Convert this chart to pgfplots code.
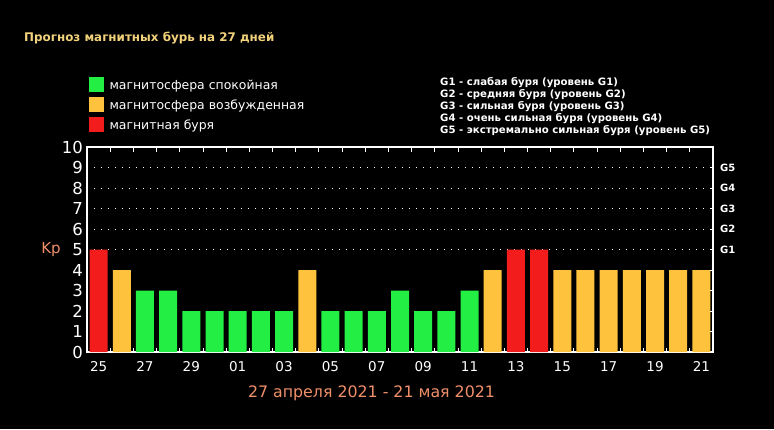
\documentclass[border=0pt]{standalone}
\usepackage{fontspec}
\setmainfont{DejaVu Sans}
\usepackage{pgfplots}
\pgfplotsset{compat=1.18}
\definecolor{kgreen}{HTML}{22EE44}
\definecolor{korange}{HTML}{FFC23C}
\definecolor{kred}{HTML}{F21C1C}
\definecolor{titlecol}{HTML}{F2D27A}
\definecolor{salmon}{HTML}{F0906A}
\begin{document}
\begin{tikzpicture}[x=1pt,y=1pt]
\fill[black] (0,0) rectangle (774,429);
\useasboundingbox (0,0) rectangle (774,429);
\node[anchor=base west, inner sep=0, text=titlecol, font=\fontsize{11.9}{13}\selectfont\bfseries] at (24,387) {Прогноз магнитных бурь на 27 дней};
\fill[kgreen] (89.3,337.3) rectangle (104,351.7);
\fill[korange] (89.3,317.3) rectangle (104,331.7);
\fill[kred] (89.3,297.3) rectangle (104,312.3);
\begin{scope}[every node/.style={anchor=base west, inner sep=0, text=white, font=\fontsize{12.45}{15}\selectfont}]
\node at (109.3,339) {магнитосфера спокойная};
\node at (109.3,319) {магнитосфера возбужденная};
\node at (109.3,299.5) {магнитная буря};
\end{scope}
\begin{scope}[every node/.style={anchor=base west, inner sep=0, text=white, font=\fontsize{10.15}{12}\selectfont\bfseries}]
\node at (440,343) {G1 - слабая буря (уровень G1)};
\node at (440,331.2) {G2 - средняя буря (уровень G2)};
\node at (440,319.4) {G3 - сильная буря (уровень G3)};
\node at (440,307.6) {G4 - очень сильная буря (уровень G4)};
\node at (440,295.8) {G5 - экстремально сильная буря (уровень G5)};
\end{scope}
\node[text=salmon, font=\fontsize{15}{17}\selectfont, inner sep=0] at (51,179) {Kp};
\node[anchor=base, text=salmon, font=\fontsize{15.8}{18}\selectfont, inner sep=0] at (371.5,32) {27 апреля 2021 - 21 мая 2021};
\begin{axis}[
  at={(87pt,77pt)}, anchor=south west,
  width=626pt, height=205pt, scale only axis,
  xmin=-0.5, xmax=26.5, ymin=0, ymax=10,
  axis line style={white, line width=1.1pt},
  tick align=inside,
  xtick={0,2,...,26},
  xticklabels={25,27,29,01,03,05,07,09,11,13,15,17,19,21},
  minor xtick={0.5,1.5,...,25.5},
  xtick style={white, line width=0.8pt},
  major x tick style={draw=none},
  minor tick length=4.5pt,
  xticklabel style={anchor=north, inner sep=0, yshift=-9.7pt, text=white, font=\fontsize{13.5}{15}\selectfont},
  ytick={0,...,10},
  ytick pos=left,
  ytick style={draw=none},
  yticklabel style={anchor=east, inner sep=0, xshift=-4pt, text=white, font=\fontsize{16.5}{18}\selectfont},
  /pgf/number format/assume math mode=true,
  extra y ticks={5,6,7,8,9},
  extra y tick labels={},
  extra y tick style={grid=major, major grid style={white, line width=0.8pt, dash pattern=on 0.8pt off 6.2pt}},
]
\addplot[ybar, bar width=18pt, fill=kgreen, draw=none] coordinates {(2,3)(3,3)(4,2)(5,2)(6,2)(7,2)(8,2)(10,2)(11,2)(12,2)(13,3)(14,2)(15,2)(16,3)};
\addplot[ybar, bar width=18pt, fill=korange, draw=none] coordinates {(1,4)(9,4)(17,4)(20,4)(21,4)(22,4)(23,4)(24,4)(25,4)(26,4)};
\addplot[ybar, bar width=18pt, fill=kred, draw=none] coordinates {(0,5)(18,5)(19,5)};
\end{axis}
\begin{axis}[
  at={(87pt,77pt)}, anchor=south west,
  width=626pt, height=205pt, scale only axis,
  xmin=-0.5, xmax=26.5, ymin=0, ymax=10,
  axis x line=none,
  axis y line*=right,
  axis line style={white, line width=1.1pt},
  tick align=inside,
  major tick length=3.5pt,
  ytick={1,...,9},
  yticklabels={,,,,G1,G2,G3,G4,G5},
  ytick style={white, line width=0.8pt},
  yticklabel style={anchor=west, inner sep=0, xshift=7pt, text=white, font=\fontsize{10}{12}\selectfont\bfseries},
]
\addplot[draw=none] coordinates {(0,0)};
\end{axis}
\end{tikzpicture}
\end{document}
